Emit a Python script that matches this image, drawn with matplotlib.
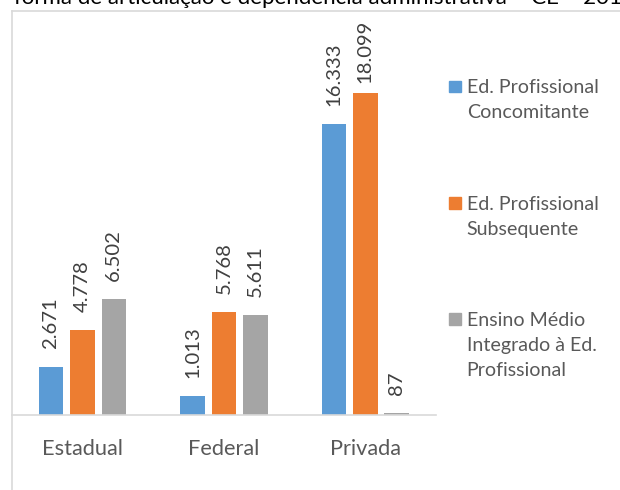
import matplotlib
matplotlib.use("Agg")
import matplotlib.pyplot as plt
import numpy as np
from matplotlib.lines import Line2D
from matplotlib.patches import Rectangle

plt.rcParams['font.family'] = ['Lato', 'DejaVu Sans']

# matrículas por dependência administrativa
categorias = ["Estadual", "Federal", "Privada"]
series = ["Ed. Profissional\nConcomitante",
          "Ed. Profissional\nSubsequente",
          "Ensino Médio\nIntegrado à Ed.\nProfissional"]
concomitante = [2671, 1013, 16333]
subsequente = [4778, 5768, 18099]
integrado = [6502, 5611, 87]
valores = [concomitante, subsequente, integrado]
cores = ["#5B9BD5", "#ED7D31", "#A5A5A5"]

titulo = "forma de articulação e dependência administrativa – CE – 2010"

W, H, DPI = 620, 490, 100
fig = plt.figure(figsize=(W / DPI, H / DPI), dpi=DPI)


def fx(px):
    return px / W


def fy(py):
    # py medido a partir do topo
    return 1 - py / H


ax = fig.add_axes([fx(11.7), fy(414.5), fx(436) - fx(11.7), fy(20) - fy(414.5)])

x = np.arange(len(categorias))
larg = 0.174
passo = 0.222
rotulos = []
for i, (vals, cor) in enumerate(zip(valores, cores)):
    pos = x + (i - 1) * passo
    ax.bar(pos, vals, width=larg, color=cor, zorder=2)
    for xp, v in zip(pos, vals):
        txt = f"{v:,}".replace(",", ".")
        t = ax.annotate(txt, (xp, v), xytext=(0, 13), textcoords="offset points",
                        rotation=90, ha="center", va="bottom",
                        fontsize=14.6, color="#404040")
        rotulos.append(t)

ax.set_xlim(-0.5, 2.5)
ax.set_ylim(0, 22200)
ax.set_xticks(x)
ax.set_xticklabels(categorias, fontsize=15.7, color="#595959")
ax.tick_params(axis="x", length=0, pad=17.5)
ax.set_yticks([])
for s in ["top", "right", "left"]:
    ax.spines[s].set_visible(False)
ax.spines["bottom"].set_color("#D9D9D9")
ax.spines["bottom"].set_linewidth(1.2)

# moldura do gráfico (cortada à direita e embaixo)
fig.add_artist(Line2D([fx(11.5), 1], [fy(11), fy(11)], color="#D9D9D9", lw=1.2))
fig.add_artist(Line2D([fx(11.5), fx(11.5)], [fy(11), 0], color="#D9D9D9", lw=1.2))

# título cortado no topo
fig.text(fx(14), fy(4), titulo, fontsize=16, color="black", va="baseline", ha="left")

# legenda
leg_y = [86.5, 203, 319]
for cor, nome, yc in zip(cores, series, leg_y):
    fig.add_artist(Rectangle((fx(449.3), fy(yc + 5.7)), fx(11.4), 11.4 / H,
                             color=cor, transform=fig.transFigure))
    fig.text(fx(466.7), fy(yc - 7.5), nome, fontsize=14.1, color="#595959",
             va="top", ha="left", linespacing=1.6)

# rótulos que passam do topo da área de plotagem descem
fig.canvas.draw()
r = fig.canvas.get_renderer()
topo = ax.get_window_extent(r).y1
for t in rotulos:
    bb = t.get_window_extent(r)
    if bb.y1 > topo:
        dx, dy = t.xyann
        t.xyann = (dx, dy - (bb.y1 - topo) * 72 / DPI)

fig.savefig("out.png", dpi=DPI)
